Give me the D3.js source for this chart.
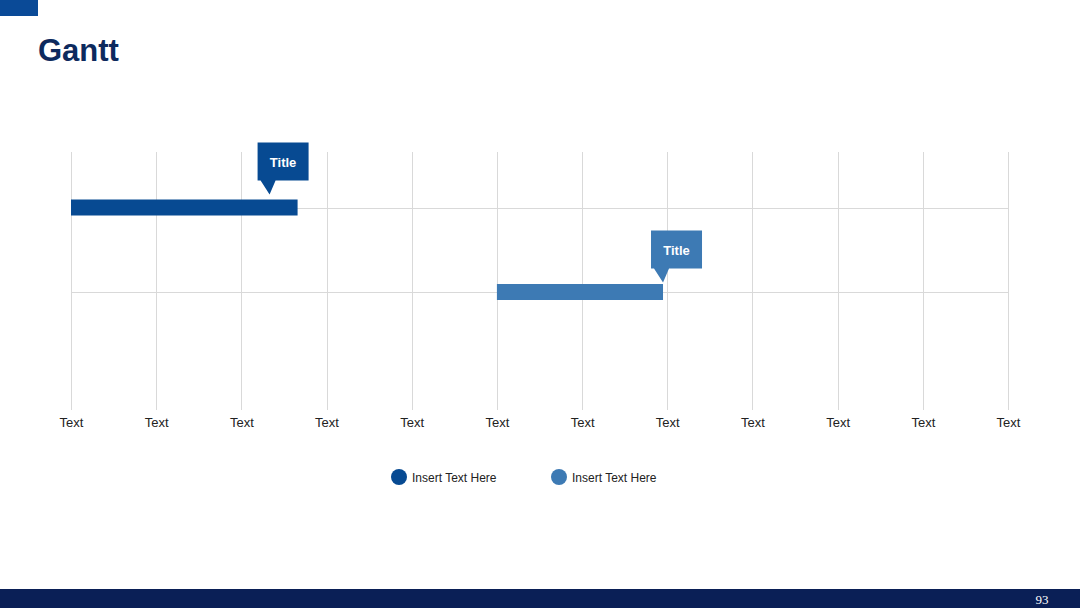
<!DOCTYPE html>
<html>
<head>
<meta charset="utf-8">
<script src="https://cdn.jsdelivr.net/npm/d3@7"></script>
<style>
  body { margin: 0; background: #fff; }
  svg { display: block; font-family: 'Liberation Sans', Arial, sans-serif; }
</style>
</head>
<body>
<svg id="chart" width="1080" height="608"></svg>
<script>
const tickLabels = ['Text', 'Text', 'Text', 'Text', 'Text', 'Text', 'Text', 'Text', 'Text', 'Text', 'Text', 'Text'];
const tasks = ['Insert Text Here', 'Insert Text Here'];
const starts = [0, 5];
const ends = [2.66, 6.95];
const callouts = ['Title', 'Title'];
const colors = ['#074a92', '#3d7ab4'];

const svg = d3.select('#chart');
const width = +svg.attr('width');
const height = +svg.attr('height');

// slide chrome
svg.append('rect').attr('x', 0).attr('y', 0).attr('width', 38).attr('height', 16).attr('fill', '#0a4a97');
svg.append('text').attr('x', 38).attr('y', 61).text('Gantt')
  .attr('font-size', 31).attr('font-weight', 'bold').attr('fill', '#0d2a5e');
svg.append('rect').attr('x', 0).attr('y', 589).attr('width', width).attr('height', height - 589).attr('fill', '#0a1f56');
svg.append('text').attr('x', 1042).attr('y', 604).attr('text-anchor', 'middle')
  .attr('font-family', "'Liberation Serif', serif").attr('font-size', 13).attr('fill', '#fff').text('93');

const x = d3.scaleLinear().domain([0, tickLabels.length - 1]).range([71, 1008]);
const y = d3.scaleLinear().domain([0, 1]).range([207.5, 292]);
const gridTop = 152;
const gridBottom = 410;

// grid
const grid = svg.append('g').attr('stroke', '#d9d9d9').attr('stroke-width', 1);
grid.selectAll('.v').data(tickLabels).enter().append('line')
  .attr('x1', (d, i) => Math.round(x(i)) + 0.5).attr('x2', (d, i) => Math.round(x(i)) + 0.5)
  .attr('y1', gridTop).attr('y2', gridBottom);
grid.selectAll('.h').data(tasks).enter().append('line')
  .attr('x1', x(0)).attr('x2', x(tickLabels.length - 1))
  .attr('y1', (d, i) => Math.round(y(i)) + 0.5).attr('y2', (d, i) => Math.round(y(i)) + 0.5);

// x axis labels
const axis = d3.axisBottom(x).tickValues(d3.range(tickLabels.length))
  .tickFormat((d) => tickLabels[d]).tickSize(0).tickPadding(0);
const ax = svg.append('g').attr('transform', `translate(0, ${gridBottom + 8})`).call(axis);
ax.select('.domain').remove();
ax.selectAll('text').attr('font-size', 13).attr('fill', '#222')
  .attr('font-family', "'Liberation Sans', Arial, sans-serif");

// bars
const barH = 16;
svg.append('g').selectAll('rect').data(tasks).enter().append('rect')
  .attr('x', (d, i) => x(starts[i]))
  .attr('y', (d, i) => y(i) - barH / 2)
  .attr('width', (d, i) => x(ends[i]) - x(starts[i]))
  .attr('height', barH)
  .attr('fill', (d, i) => colors[i]);

// callouts
const boxW = 51;
const boxH = 38;
const call = svg.append('g').selectAll('g').data(callouts).enter().append('g')
  .attr('transform', (d, i) => {
    const tipX = i === 0 ? x(ends[i]) - 28 : x(ends[i]);
    const tipY = y(i) - barH / 2 - (i === 0 ? 5 : 1.5);
    return `translate(${tipX}, ${tipY})`;
  });
call.append('path')
  .attr('d', () => {
    // box anchored so that the pointer sits near its left side
    const left = -12;
    const bot = -14;
    return `M${left},${bot - boxH} h${boxW} v${boxH} h${-(boxW - 18)} L0,0 L${left + 3},${bot} h-3 Z`;
  })
  .attr('fill', (d, i) => colors[i]);
call.append('text')
  .attr('x', -12 + boxW / 2).attr('y', -14 - boxH / 2 + 5)
  .attr('text-anchor', 'middle').attr('font-size', 13).attr('font-weight', 'bold')
  .attr('fill', '#fff').text((d) => d);

// legend
const legendX = [399, 559];
const legend = svg.append('g').selectAll('g').data(tasks).enter().append('g')
  .attr('transform', (d, i) => `translate(${legendX[i]}, 477)`);
legend.append('circle').attr('r', 8).attr('fill', (d, i) => colors[i]);
legend.append('text').attr('x', 13).attr('y', 4.5).attr('font-size', 12).attr('fill', '#222').text((d) => d);
</script>
</body>
</html>
